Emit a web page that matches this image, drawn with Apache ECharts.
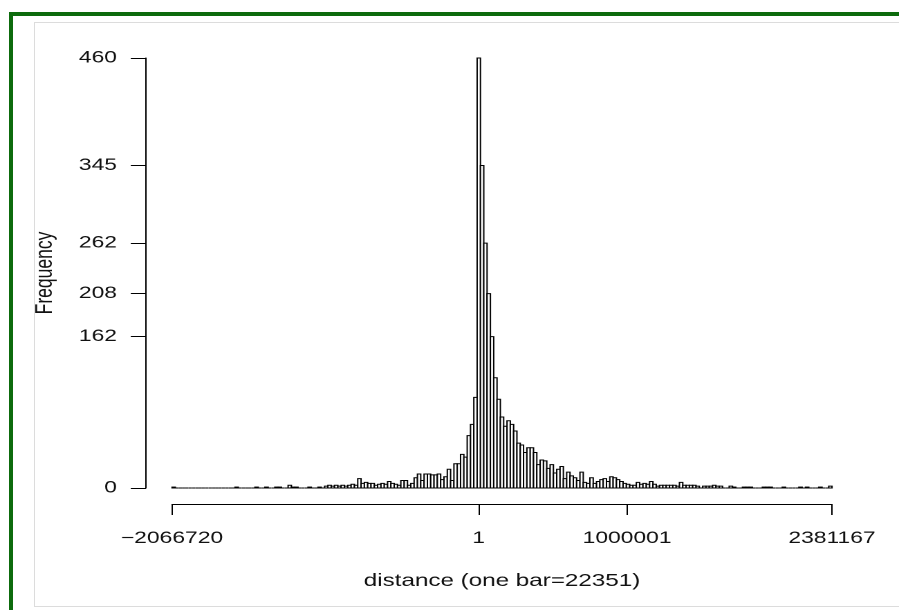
<!DOCTYPE html>
<html><head><meta charset="utf-8">
<script src="https://cdn.jsdelivr.net/npm/echarts@6/dist/echarts.min.js"></script>
<style>
html,body{margin:0;padding:0;width:899px;height:610px;overflow:hidden;background:#fff;}
#frame{position:absolute;left:9px;top:12px;width:900px;height:610px;border-top:4px solid #0d6b0d;border-left:4px solid #0d6b0d;box-sizing:border-box;}
#panel{position:absolute;left:34px;top:22px;width:880px;height:585px;border:1px solid #dcdcdc;box-sizing:border-box;}
#chart{position:absolute;left:0;top:0;width:650px;height:610px;transform-origin:0 0;transform:scaleX(1.38308);}
</style></head><body>
<div id="frame"></div><div id="panel"></div><div id="chart"></div>
<script>
// Histogram data: bins start at binStart, each bin is binWidth wide
const binStart = -2066720;
const binWidth = 22351;
const counts = [
  1,0,0,0,0,0,0,0,0,0,            // 0-9
  0,0,0,0,0,0,0,0,0,1,            // 10-19
  0,0,0,0,0,1,0,0,1,0,            // 20-29
  0,1,1,0,0,3,1,1,0,0,            // 30-39
  0,1,0,0,1,0,2,3,2,3,            // 40-49
  2,3,2,3,4,3,10,5,6,5,           // 50-59
  5,3,4,5,4,7,5,4,3,8,            // 60-69
  8,3,5,11,15,8,15,15,14,14,      // 70-79
  15,9,12,20,8,26,26,36,33,56,    // 80-89
  68,97,460,345,262,208,162,118,95,76, // 90-99
  66,72,68,61,48,46,38,43,43,38,  // 100-109
  25,30,29,21,25,16,20,23,10,17,  // 110-119
  13,11,8,17,6,5,11,5,7,9,        // 120-129
  10,7,12,11,9,7,5,4,3,3,         // 130-139
  6,4,5,4,7,4,2,3,3,3,            // 140-149
  3,3,2,6,3,3,3,3,2,0,            // 150-159
  2,2,2,3,2,2,0,0,2,1,            // 160-169
  0,0,1,1,1,0,0,0,1,1,            // 170-179
  1,0,0,0,1,0,0,0,0,1,            // 180-189
  0,1,0,0,0,1,0,0,2               // 190-198
];
const xTickValues = [-2066720, 1, 1000001, 2381167];
const yTickValues = [0, 162, 208, 262, 345, 460];
const xName = 'distance (one bar=22351)';
const yName = 'Frequency';

const bins = counts.map((c, i) => [binStart + i * binWidth, binStart + (i + 1) * binWidth, c]);

const font = "'Liberation Sans', Arial, sans-serif";
const chart = echarts.init(document.getElementById('chart'), null, {renderer: 'canvas', devicePixelRatio: 2});
chart.setOption({
  animation: false,
  backgroundColor: 'transparent',
  grid: {left: 124.36, right: 48.44, top: 58, bottom: 122, containLabel: false},
  xAxis: {
    type: 'value',
    min: xTickValues[0],
    max: xTickValues[xTickValues.length - 1],
    offset: 16,
    name: xName,
    nameLocation: 'middle',
    nameGap: 68,
    nameTextStyle: {fontFamily: font, fontSize: 17.5, color: '#111'},
    axisLine: {show: true, onZero: false, lineStyle: {color: '#000', width: 1}},
    axisTick: {show: true, length: 11, customValues: xTickValues, lineStyle: {color: '#000', width: 1}},
    axisLabel: {
      customValues: xTickValues, margin: 26, fontFamily: font, fontSize: 16.5, color: '#111',
      formatter: v => (v < 0 ? '\u2212' + Math.abs(v) : String(v))
    },
    splitLine: {show: false}
  },
  yAxis: {
    type: 'value',
    min: yTickValues[0],
    max: yTickValues[yTickValues.length - 1],
    offset: 18.8,
    name: yName,
    nameLocation: 'middle',
    nameGap: 64,
    nameTextStyle: {fontFamily: font, fontSize: 17.5, color: '#111'},
    axisLine: {show: true, onZero: false, lineStyle: {color: '#000', width: 1}},
    axisTick: {show: true, length: 11, customValues: yTickValues, lineStyle: {color: '#000', width: 1}},
    axisLabel: {customValues: yTickValues, margin: 21, fontFamily: font, fontSize: 16.5, color: '#111',
      formatter: v => String(v)},
    splitLine: {show: false}
  },
  series: [{
    type: 'custom',
    data: bins,
    encode: {x: [0, 1], y: 2},
    renderItem: function (params, api) {
      const p0 = api.coord([api.value(0), 0]);
      const p1 = api.coord([api.value(1), api.value(2)]);
      return {
        type: 'rect',
        shape: {x: p0[0], y: p1[1], width: p1[0] - p0[0], height: p0[1] - p1[1]},
        style: {fill: '#fff', stroke: '#000', lineWidth: 1}
      };
    }
  }]
});
</script>
</body></html>
